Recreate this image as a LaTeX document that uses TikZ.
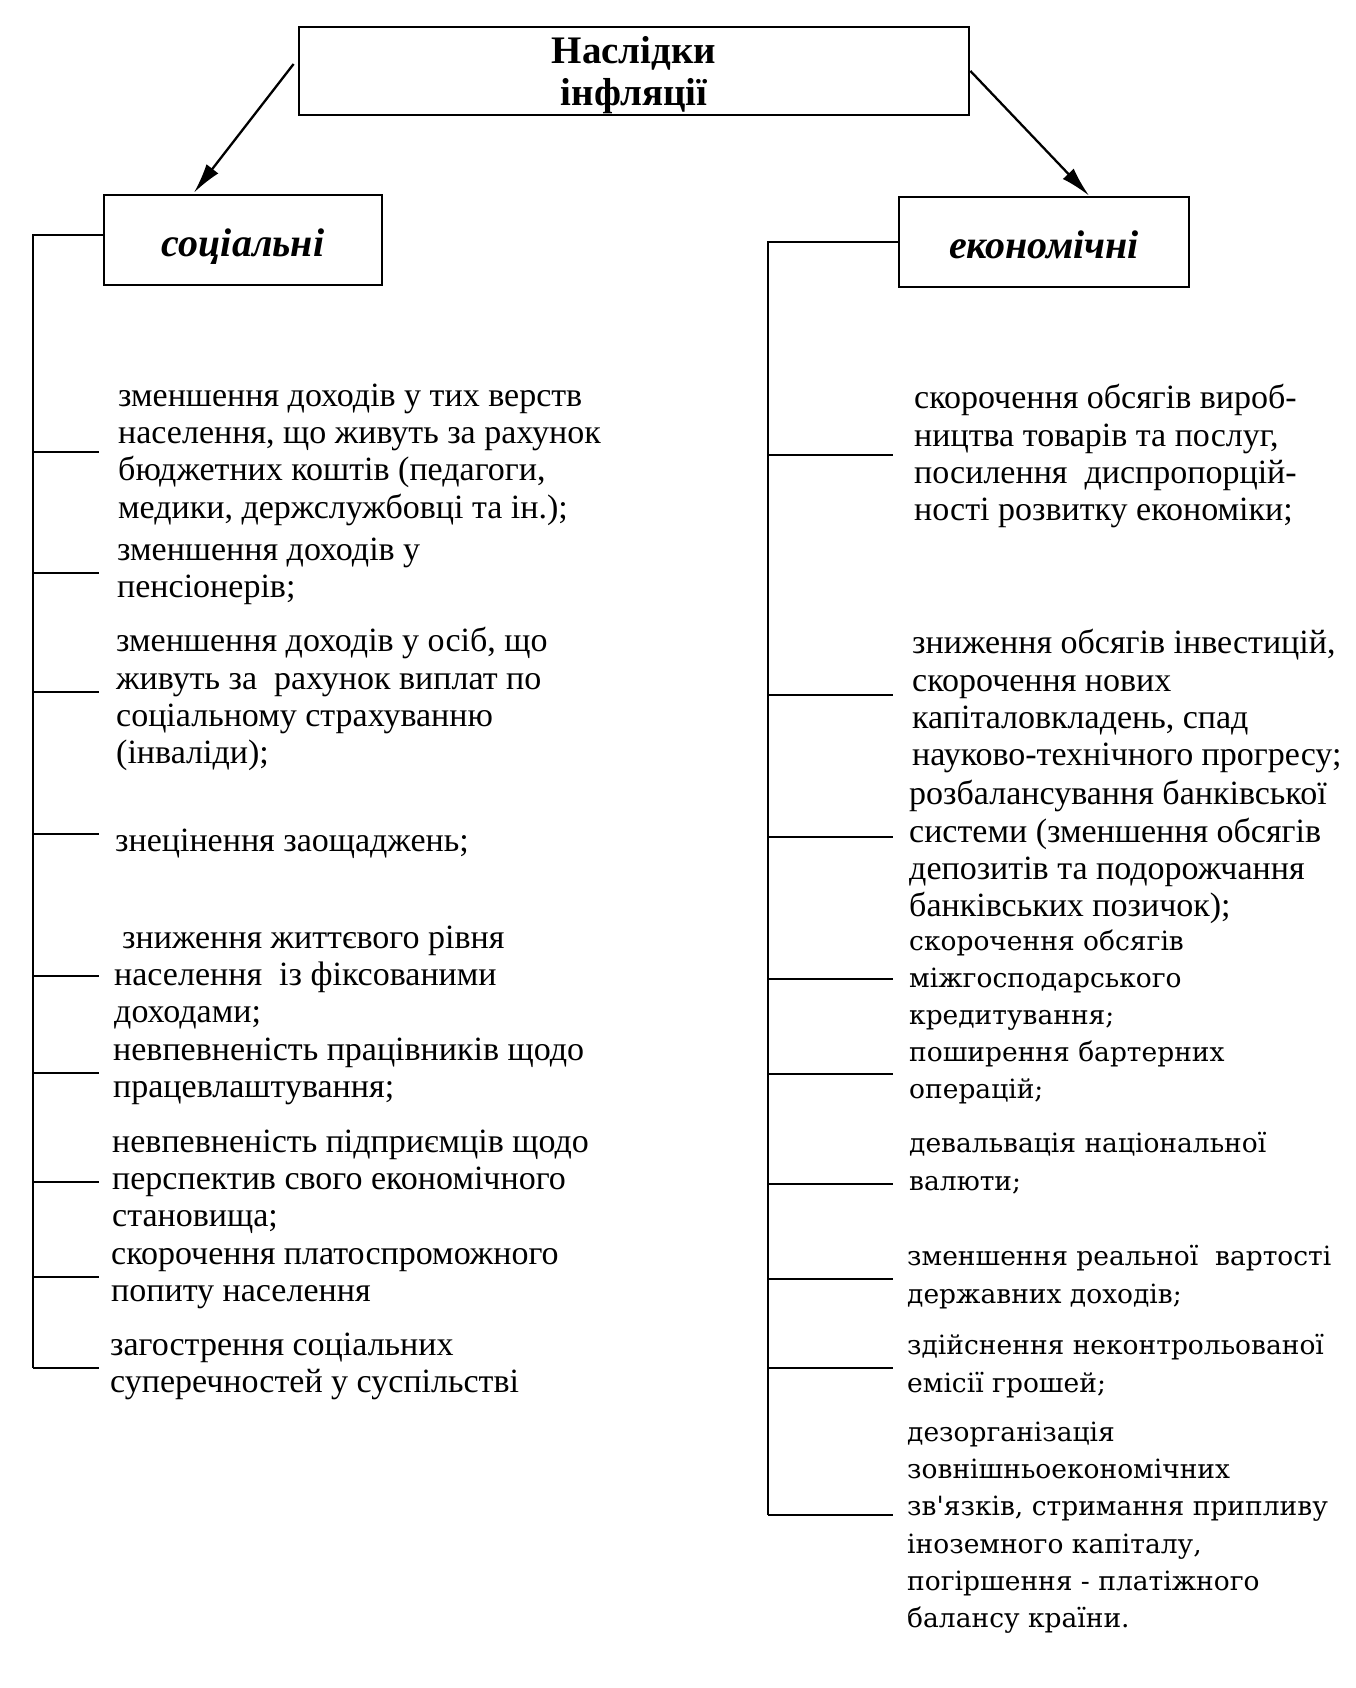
\documentclass[tikz,border=0pt]{standalone}
\usepackage{fontspec}
\setmainfont{Liberation Serif}
\newfontfamily\widefont{DejaVu Serif}
\usetikzlibrary{arrows.meta}
\begin{document}
\begin{tikzpicture}[x=1pt,y=-1pt,
  box/.style={draw, line width=2.8pt, inner sep=0pt},
  line/.style={line width=2.3pt},
  arr/.style={line width=2.3pt, -{Latex[length=30pt,width=15pt]}},
  item/.style={anchor=north west, yshift=19.6pt, inner sep=0pt, align=left,
    execute at begin node=\strut, font=\fontsize{34}{37.3}\selectfont},
  witem/.style={item, yshift=-1pt, font=\widefont\fontsize{26.5}{37.3}\selectfont},
  head/.style={font=\bfseries\itshape\fontsize{40}{44}\selectfont, text height=33pt, text depth=0pt}]
\useasboundingbox[fill=white] (0,0) rectangle (1356,1688);

% main box
\node[box, minimum width=670pt, minimum height=88pt] (top) at (634,71) {};
\node[align=center, inner sep=0pt, font=\bfseries\fontsize{39}{42}\selectfont] (toptxt) at (634,75) {Наслідки\\інфляції};
\node[box, minimum width=278pt, minimum height=90pt, head] (soc) at (243,240) {соціальні};
\node[box, minimum width=290pt, minimum height=90pt, head] (eco) at (1044,242) {економічні};

\draw[arr] ([xshift=-4pt,yshift=7pt]top.west) -- ([xshift=-49pt,yshift=1pt]soc.north);
\draw[arr] ([xshift=0pt,yshift=0pt]top.east) -- ([xshift=45pt,yshift=0pt]eco.north);

% left spine
\coordinate (lt) at (33,235);
\coordinate (lb) at (33,1368);
\draw[line] (soc.west |- lt) -- (lt) -- (lb);
\foreach \y in {452,573,692,834,976,1073,1182,1277,1368}
  \draw[line] (33,\y) -- (99,\y);

% right spine
\coordinate (rt) at (768,242);
\coordinate (rb) at (768,1515);
\draw[line] (eco.west |- rt) -- (rt) -- (rb);
\foreach \y in {455,695,837,979,1074,1184,1279,1368,1515}
  \draw[line] (768,\y) -- (893,\y);

% left items
\node[item] (l1) at (118,403) {зменшення доходів у тих верств\\населення, що живуть за рахунок\\бюджетних коштів (педагоги,\\медики, держслужбовці та ін.);};
\node[item] (l2) at (117,557) {зменшення доходів у\\пенсіонерів;};
\node[item] (l3) at (116,647) {зменшення доходів у осіб, що\\живуть за\ \ рахунок виплат по\\соціальному страхуванню\\(інваліди);};
\node[item] (l4) at (115,845) {знецінення заощаджень;};
\node[item] (l5) at (122,945) {зниження життєвого рівня\\\hspace{-8pt}населення\ \ із фіксованими\\\hspace{-8pt}доходами;};
\node[item] (l6) at (113,1057) {невпевненість працівників щодо\\працевлаштування;};
\node[item] (l7) at (112,1149) {невпевненість підприємців щодо\\перспектив свого економічного\\становища;};
\node[item] (l8) at (111,1268) {скорочення платоспроможного\\попиту населення};
\node[item] (l9) at (110,1352) {загострення соціальних\\суперечностей у суспільстві};

% right items
\node[item] (r1) at (914,404) {скорочення обсягів вироб-\\ництва товарів та послуг,\\посилення\ \ диспропорцій-\\ності розвитку економіки;};
\node[item] (r2) at (912,649) {зниження обсягів інвестицій,\\скорочення нових\\капіталовкладень, спад\\науково-технічного прогресу;};
\node[item] (r3) at (909,800) {розбалансування банківської\\системи (зменшення обсягів\\депозитів та подорожчання\\банківських позичок);};
\node[witem] (r4) at (909,948) {скорочення обсягів\\міжгосподарського\\кредитування;};
\node[witem] (r5) at (909,1059) {поширення бартерних\\операцій;};
\node[witem] (r6) at (909,1151) {девальвація національної\\валюти;};
\node[witem] (r7) at (907,1264) {зменшення реальної\ \ вартості\\державних доходів;};
\node[witem] (r8) at (907,1353) {здійснення неконтрольованої\\емісії грошей;};
\node[witem] (r9) at (907,1440) {дезорганізація\\зовнішньоекономічних\\зв'язків, стримання припливу\\іноземного капіталу,\\погіршення - платіжного\\балансу країни.};
\end{tikzpicture}
\end{document}
